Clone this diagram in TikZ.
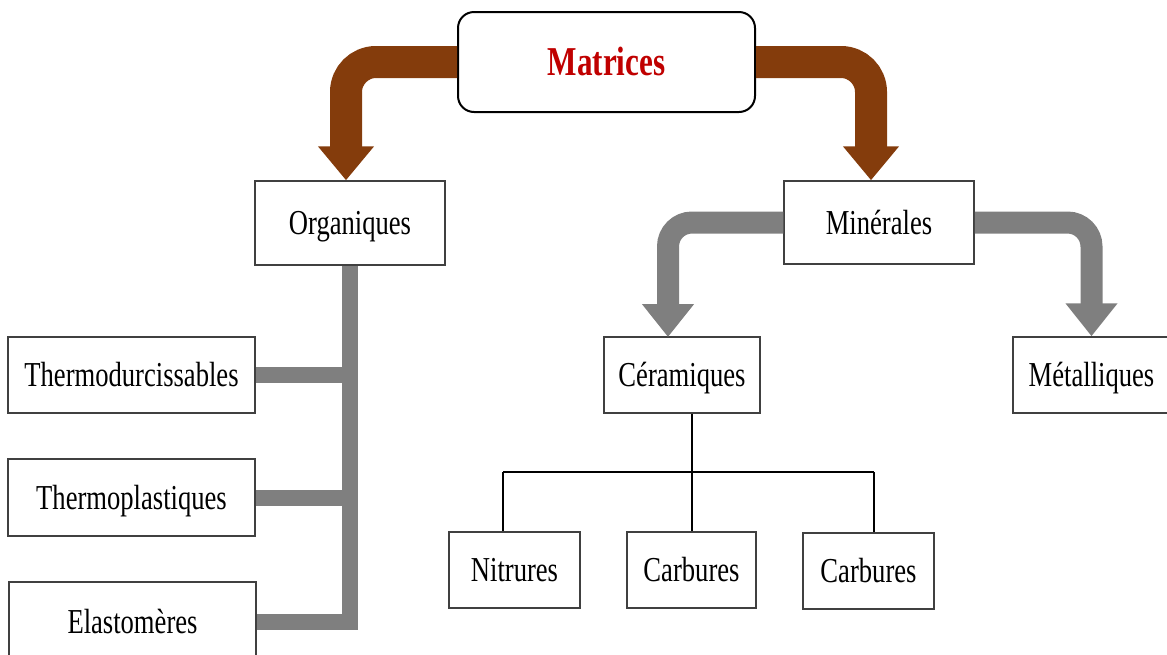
\documentclass[tikz,border=0pt]{standalone}
\usepackage{fontspec}
\setmainfont[FakeStretch=0.76]{Liberation Serif}
\usetikzlibrary{arrows.meta}

\definecolor{matbrown}{HTML}{843C0C}
\definecolor{matgray}{HTML}{7F7F7F}
\definecolor{matred}{HTML}{C00000}
\definecolor{boxline}{HTML}{404040}

\tikzset{
  box/.style={draw=boxline,line width=0.75pt,inner sep=0pt,fill=white,
    text height=11.6pt,text depth=0pt,
    font=\fontsize{17.5}{21}\selectfont},
  brownarrow/.style={draw=matbrown,line width=16pt,rounded corners=15pt,
    -{Triangle[width=27pt,length=17pt]}},
  grayarrow/.style={draw=matgray,line width=11pt,rounded corners=12pt,
    -{Triangle[width=25pt,length=16.5pt]}},
  graybar/.style={draw=matgray,line width=8pt},
  thinline/.style={draw=black,line width=1pt}
}

\begin{document}
\begin{tikzpicture}[x=0.5pt,y=-0.5pt]
      \useasboundingbox (0,0) rectangle (1167,654);

      % boxes
      \node[box,draw=black,line width=1pt,rounded corners=8pt,minimum width=148.5pt,minimum height=50pt,
        text height=13.4pt,font=\fontsize{20.5}{24}\selectfont\bfseries,text=matred] (mat) at (606.5,62) {Matrices};
      \node[box,minimum width=95pt,minimum height=42pt] (org) at (350,223) {Organiques};
      \node[box,minimum width=95pt,minimum height=41.5pt] (min) at (879,222.5) {Minérales};
      \node[box,minimum width=123.5pt,minimum height=38pt] (thd) at (131.5,375) {Thermodurcissables};
      \node[box,minimum width=123.5pt,minimum height=38.5pt] (thp) at (131.5,497.5) {Thermoplastiques};
      \node[box,minimum width=123.5pt,minimum height=40pt] (ela) at (132.5,622) {Elastomères};
      \node[box,minimum width=78pt,minimum height=38pt] (cer) at (682,375) {Céramiques};
      \node[box,minimum width=78.5pt,minimum height=38pt] (met) at (1091.5,375) {Métalliques};
      \node[box,minimum width=65.5pt,minimum height=38pt] (nit) at (514.5,570) {Nitrures};
      \node[box,minimum width=64.5pt,minimum height=38pt] (car1) at (691.5,570) {Carbures};
      \node[box,minimum width=65.5pt,minimum height=38pt] (car2) at (868.5,571) {Carbures};

      \coordinate (cerin) at (668,337);
      \coordinate (hl) at (503,472);
      \coordinate (hr) at (874,472);

      % thick arrows
      \draw[brownarrow] (mat.west) -| ([xshift=-2pt]org.north);
      \draw[brownarrow] (mat.east) -| ([xshift=-4pt]min.north);
      \draw[grayarrow] (min.west) -| (cerin);
      \draw[grayarrow] (min.east) -| (met.north);

      % organiques tree
      \draw[graybar] (org.south) |- (ela.east);
      \draw[graybar] (thd.east) -- (thd.east -| org.south);
      \draw[graybar] (thp.east) -- (thp.east -| org.south);

      % ceramiques tree
      \draw[thinline] (cer.south -| car1.north) -- (car1.north);
      \draw[thinline] (hl) -- (hr);
      \draw[thinline] (hl) -- (hl |- nit.north);
      \draw[thinline] (hr) -- (hr |- car2.north);
    \end{tikzpicture}
\end{document}
